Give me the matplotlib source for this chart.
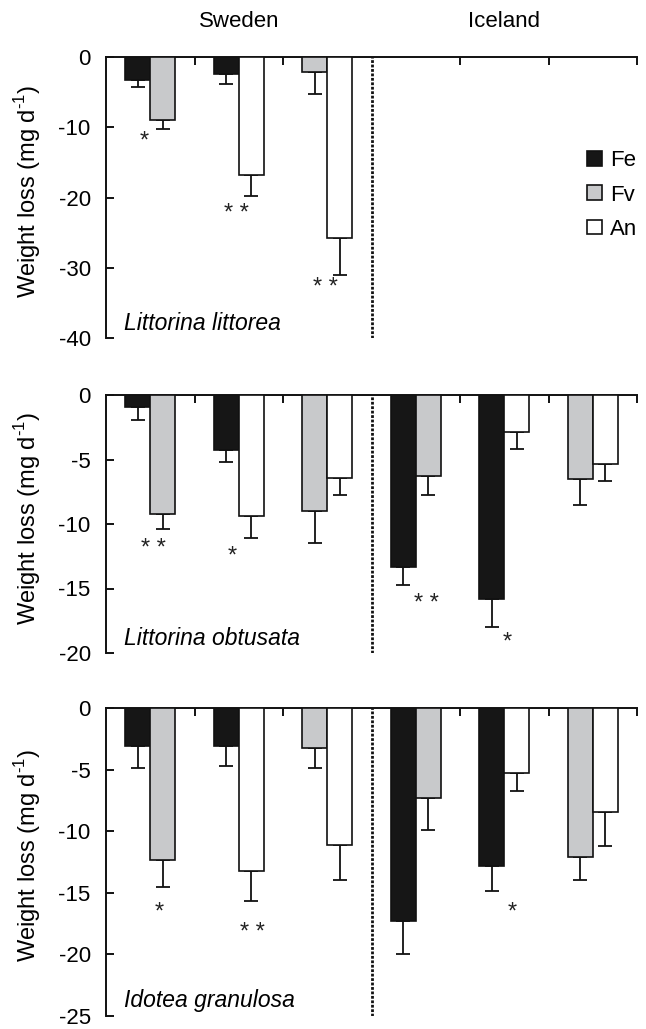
import matplotlib
matplotlib.use("Agg")
import matplotlib.pyplot as plt
from matplotlib.patches import Patch

plt.rcParams['font.family'] = ['Liberation Sans', 'DejaVu Sans']
plt.rcParams['axes.unicode_minus'] = False
plt.rcParams['mathtext.fontset'] = 'custom'
plt.rcParams['mathtext.rm'] = 'Liberation Sans'

# ---------------- data ----------------
regions = ["Sweden", "Iceland"]
treatments = ["Fe", "Fv", "An"]
slot_pairs = [("Fe", "Fv"), ("Fe", "An"), ("Fv", "An"),
              ("Fe", "Fv"), ("Fe", "An"), ("Fv", "An")]
species = ["Littorina littorea", "Littorina obtusata", "Idotea granulosa"]

# means and (downward) SE, two bars per slot, in slot order
littorea_means = [-3.3, -8.9, -2.4, -16.8, -2.1, -25.8]
littorea_err = [1.0, 1.3, 1.4, 3.0, 3.2, 5.3]

obtusata_means = [-0.95, -9.25, -4.3, -9.4, -9.0, -6.45,
                  -13.3, -6.25, -15.8, -2.85, -6.5, -5.35]
obtusata_err = [0.95, 1.15, 0.9, 1.7, 2.5, 1.3,
                1.4, 1.5, 2.2, 1.3, 2.05, 1.3]

granulosa_means = [-3.05, -12.37, -3.05, -13.25, -3.26, -11.08,
                   -17.3, -7.3, -12.85, -5.3, -12.13, -8.48]
granulosa_err = [1.82, 2.17, 1.69, 2.45, 1.61, 2.89,
                 2.7, 2.63, 1.98, 1.47, 1.84, 2.76]

# significance marks: (x position in slot units, y value, text)
littorea_stars = [(0.43, -12.0, "*"), (1.47, -22.3, "* *"), (2.48, -32.9, "* *")]
obtusata_stars = [(0.54, -11.9, "* *"), (1.43, -12.5, "*"),
                  (3.62, -16.2, "* *"), (4.53, -19.2, "*")]
granulosa_stars = [(0.60, -16.6, "*"), (1.65, -18.3, "* *"), (4.59, -16.6, "*")]

ylims = [-40, -20, -25]
yticks = [[0, -10, -20, -30, -40], [0, -5, -10, -15, -20], [0, -5, -10, -15, -20, -25]]

colors = {"Fe": "#161616", "Fv": "#c8c9cb", "An": "white"}

panels = [
    (littorea_means, littorea_err, littorea_stars),
    (obtusata_means, obtusata_err, obtusata_stars),
    (granulosa_means, granulosa_err, granulosa_stars),
]

# ---------------- layout ----------------
W, H = 646, 1029
fig = plt.figure(figsize=(W / 100, H / 100), dpi=100)
left_px, right_px = 106, 637
panel_px = [(57, 338), (395, 653), (708, 1016)]

bar_w = 0.285
fs = 16

axes = []
for i, (top, bot) in enumerate(panel_px):
    ax = fig.add_axes([left_px / W, 1 - bot / H, (right_px - left_px) / W, (bot - top) / H])
    axes.append(ax)
    means, errs, stars = panels[i]
    n_slots = len(means) // 2
    for s in range(n_slots):
        center = s + 0.5
        for j in range(2):
            t = slot_pairs[s][j]
            x = center - bar_w / 2 if j == 0 else center + bar_w / 2
            m = means[2 * s + j]
            e = errs[2 * s + j]
            ax.bar(x, m, width=bar_w, color=colors[t], edgecolor="#111111",
                   linewidth=1.2, zorder=3)
            ax.errorbar(x, m, yerr=[[e], [0]], fmt="none", ecolor="#111111",
                        elinewidth=1.3, capsize=5, capthick=1.3, zorder=2)
    for (sx, sy, txt) in stars:
        ax.text(sx, sy, txt, ha="center", va="center", fontsize=17, color="#222222")

    ax.set_xlim(0, 6)
    ax.set_ylim(ylims[i], 0)
    ax.set_yticks(yticks[i])
    ax.set_yticklabels([str(v) for v in yticks[i]], fontsize=fs)
    ax.tick_params(axis="y", direction="in", length=6, width=1.3, pad=11)
    ax.xaxis.tick_top()
    ax.set_xticks([1, 2, 4, 5, 6])
    ax.set_xticklabels([])
    ax.tick_params(axis="x", direction="in", length=6, width=1.3)
    for sp in ["right", "bottom"]:
        ax.spines[sp].set_visible(False)
    for sp in ["left", "top"]:
        ax.spines[sp].set_linewidth(1.4)
        ax.spines[sp].set_color("#111111")
    ax.axvline(3, color="#111111", linestyle=(0, (1, 0.6)), linewidth=2.0, zorder=1)
    ax.set_ylabel(r"Weight loss (mg d$^{\text{-1}}$)", fontsize=17)
    ax.yaxis.set_label_coords(-0.118, 0.52)
    ax.text(0.033, 0.012, species[i], transform=ax.transAxes, fontsize=16.5,
            style="italic", ha="left", va="bottom")

# region labels
for k, r in enumerate(regions):
    axes[0].text(1.5 + 3 * k, 1.125, r, transform=axes[0].get_xaxis_transform(),
                 ha="center", va="center", fontsize=fs)

handles = [Patch(facecolor=colors[t], edgecolor="#111111", linewidth=1.2, label=t)
           for t in treatments]
axes[0].legend(handles=handles, loc="upper left", bbox_to_anchor=(0.89, 0.70),
               frameon=False, fontsize=fs, handlelength=0.65, handleheight=0.65,
               handletextpad=0.35, labelspacing=0.6, borderaxespad=0)

fig.savefig("out.png", dpi=100)
